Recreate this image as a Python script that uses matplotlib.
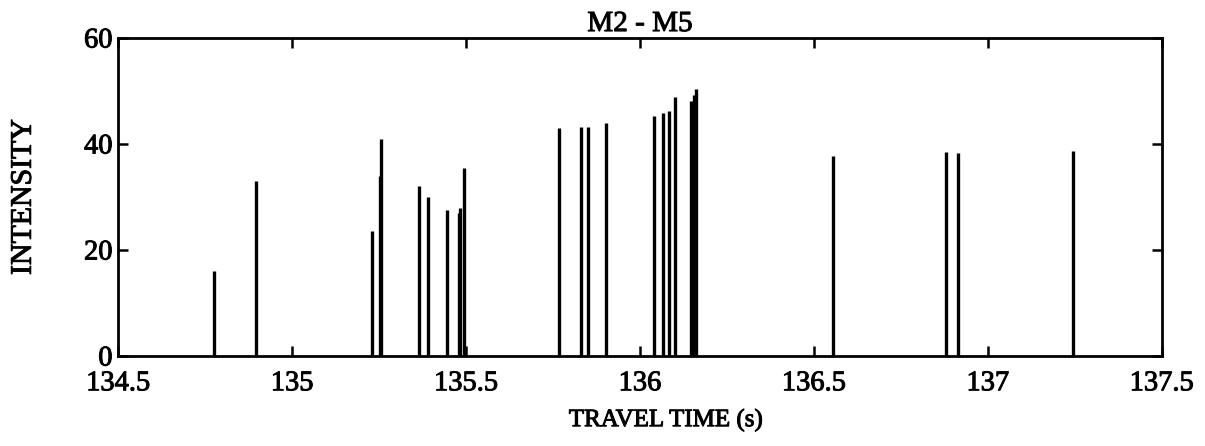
import matplotlib
matplotlib.use("Agg")
import matplotlib.pyplot as plt
import matplotlib.patheffects as pe

# arrival times (s) and intensities of the M2 - M5 eigenrays
arrival_times = [134.775, 134.897, 135.230, 135.252, 135.257, 135.366, 135.392,
                 135.447, 135.479, 135.484, 135.495, 135.768, 135.832, 135.852,
                 135.904, 136.040, 136.067, 136.083, 136.102, 136.148, 136.155,
                 136.162, 136.556, 136.879, 136.914, 137.245]
intensities = [16, 33, 23.5, 34, 41, 32, 30,
               27.5, 27, 28, 35.5, 43, 43.3, 43.2,
               44, 45.3, 45.8, 46.2, 48.8, 48.2, 49.3,
               50.3, 37.8, 38.5, 38.3, 38.7]

xticks = [134.5, 135, 135.5, 136, 136.5, 137, 137.5]
xtick_labels = ["134.5", "135", "135.5", "136", "136.5", "137", "137.5"]
yticks = [0, 20, 40, 60]

plt.rcParams["font.family"] = ["Liberation Serif", "DejaVu Serif"]
# slightly heavier strokes on the text, like a dark print
plt.rcParams["path.effects"] = []
heavy = [pe.withStroke(linewidth=0.7, foreground="black")]

fig = plt.figure(figsize=(12.05, 4.46), dpi=100)
ax = fig.add_axes([0.098, 0.2018, 0.866, 0.713])

ax.vlines(arrival_times, 0, intensities, colors="black", linewidth=2.4)

ax.set_xlim(134.5, 137.5)
ax.set_ylim(0, 60)
ax.set_xticks(xticks)
ax.set_xticklabels(xtick_labels)
ax.set_yticks(yticks)
ax.tick_params(direction="in", length=7, width=1.8, labelsize=20.5,
               top=True, right=True)
ax.tick_params(axis="x", pad=11)
ax.tick_params(axis="y", pad=4)

for spine in ax.spines.values():
    spine.set_linewidth(2.0)

title = ax.set_title("M2 - M5", fontsize=21, pad=5)
xlab = ax.set_xlabel("TRAVEL TIME (s)", fontsize=18)
ax.xaxis.set_label_coords(0.525, -0.165)
ylab = ax.set_ylabel("INTENSITY", fontsize=21.5, labelpad=34)

for t in [title, xlab, ylab] + ax.get_xticklabels() + ax.get_yticklabels():
    t.set_path_effects(heavy)

fig.savefig("out.png", dpi=100)
